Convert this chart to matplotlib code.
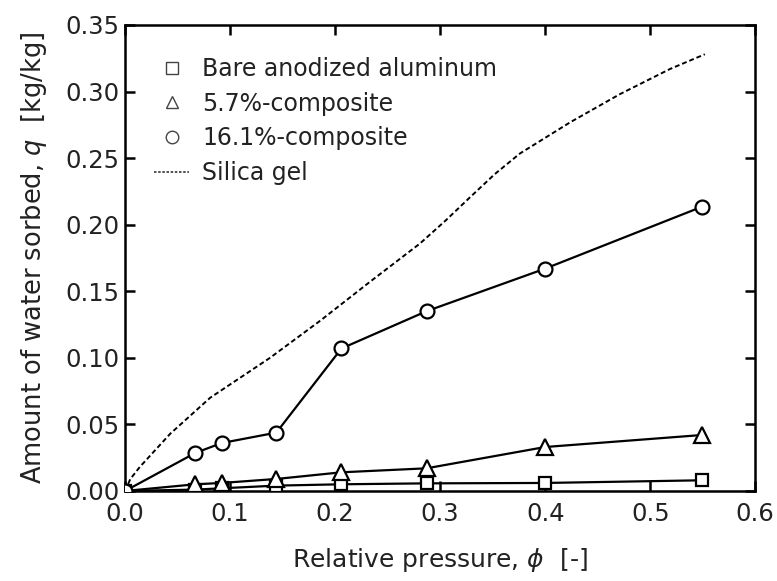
import matplotlib
matplotlib.use("Agg")
import matplotlib.pyplot as plt
from matplotlib.lines import Line2D

plt.rcParams['font.family'] = ['DejaVu Sans']
plt.rcParams['mathtext.fontset'] = 'dejavusans'

x_pts = [0.0, 0.067, 0.092, 0.144, 0.206, 0.287, 0.40, 0.549]
bare = [0.0, 0.001, 0.002, 0.004, 0.005, 0.0057, 0.006, 0.008]
comp57 = [0.0, 0.005, 0.006, 0.009, 0.014, 0.017, 0.033, 0.042]
comp161 = [0.0, 0.0286, 0.036, 0.0438, 0.107, 0.135, 0.167, 0.2134]

silica_x = [0.0, 0.005, 0.014, 0.043, 0.081, 0.138, 0.186, 0.233, 0.281, 0.305, 0.329,
            0.352, 0.376, 0.424, 0.471, 0.519, 0.552]
silica_y = [0.0, 0.009, 0.018, 0.043, 0.070, 0.100, 0.128, 0.157, 0.186, 0.203, 0.221,
            0.238, 0.2535, 0.277, 0.298, 0.317, 0.328]

labels = ['Bare anodized aluminum', '5.7%-composite', '16.1%-composite', 'Silica gel']

fig = plt.figure(figsize=(7.77, 5.81), dpi=100)
ax = fig.add_axes([0.161, 0.155, 0.811, 0.802])

lw = 1.6
ms = 10
ax.plot(x_pts, bare, '-s', color='black', lw=lw, ms=ms - 1, mfc='white', mew=1.6, zorder=3)
ax.plot(x_pts, comp57, '-^', color='black', lw=lw, ms=ms + 1, mfc='white', mew=1.6, zorder=3)
ax.plot(x_pts, comp161, '-o', color='black', lw=lw, ms=ms, mfc='white', mew=1.6, zorder=4)
ax.plot(silica_x, silica_y, linestyle=(0, (2.5, 1.5)), color='black', lw=1.4, zorder=2)

ax.set_xlim(0, 0.6)
ax.set_ylim(0, 0.35)
ax.set_xticks([0.0, 0.1, 0.2, 0.3, 0.4, 0.5, 0.6])
ax.set_yticks([0.0, 0.05, 0.10, 0.15, 0.20, 0.25, 0.30, 0.35])
ax.set_xticklabels(['0.0', '0.1', '0.2', '0.3', '0.4', '0.5', '0.6'])
ax.set_yticklabels(['0.00', '0.05', '0.10', '0.15', '0.20', '0.25', '0.30', '0.35'])
ax.tick_params(direction='in', length=7, width=1.8, labelsize=17.5, top=True, right=True,
               color='black', labelcolor='#222222')
ax.tick_params(axis='x', pad=8)
ax.tick_params(axis='y', pad=4)
for s in ax.spines.values():
    s.set_linewidth(1.8)

ax.set_xlabel(r'Relative pressure, $\it{\phi}$  [-]', fontsize=18, labelpad=14, color='#222222')
ax.set_ylabel(r'Amount of water sorbed, $\it{q}$  [kg/kg]', fontsize=18.5, labelpad=12, color='#222222')

handles = [
    Line2D([], [], linestyle='none', marker='s', ms=9, mfc='white', mec='#444444', mew=1.0),
    Line2D([], [], linestyle='none', marker='^', ms=9, mfc='white', mec='#444444', mew=1.0),
    Line2D([], [], linestyle='none', marker='o', ms=9, mfc='white', mec='#444444', mew=1.0),
    Line2D([], [], linestyle=(0, (1.5, 1)), color='#333333', lw=1.2),
]
ax.legend(handles, labels, loc='upper left', frameon=False, fontsize=17,
          handlelength=1.5, handletextpad=0.55, labelspacing=0.45,
          bbox_to_anchor=(0.012, 0.977), labelcolor='#222222')

fig.savefig('out.png', dpi=100)
